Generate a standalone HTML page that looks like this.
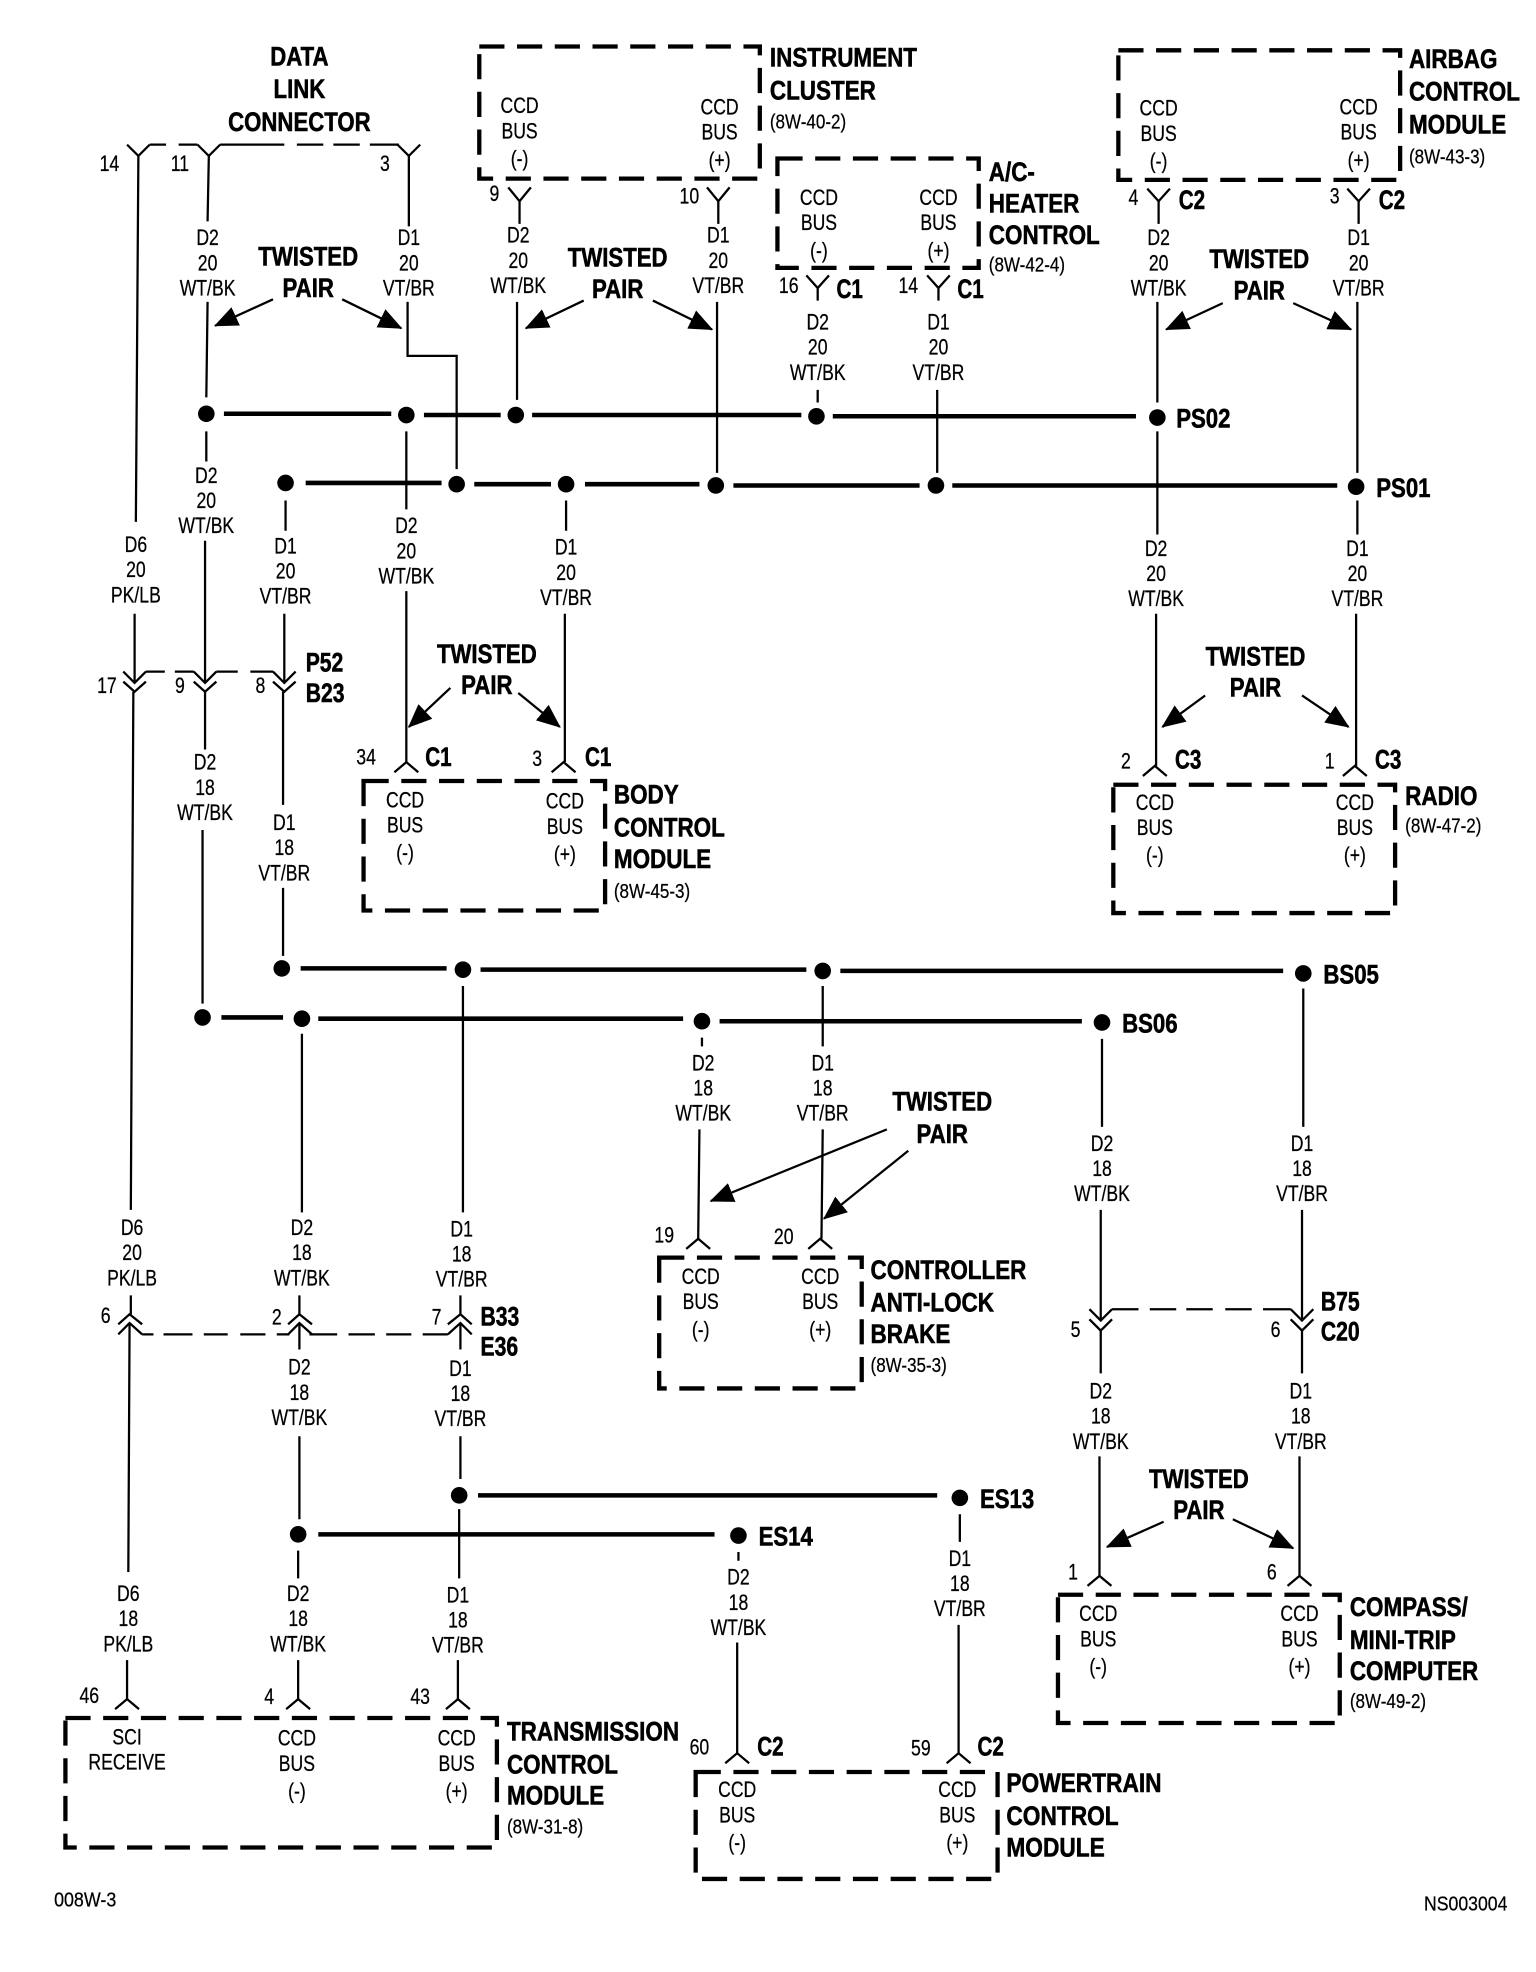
<!DOCTYPE html>
<html><head><meta charset="utf-8"><style>
html,body{margin:0;padding:0;background:#fff}
svg{display:block}
text{font-family:"Liberation Sans",sans-serif;fill:#000;stroke:none}
.w{font-size:17.5px;text-anchor:middle}
.w text{stroke:#000;stroke-width:.2px}
.h{font-size:21px;font-weight:bold}
.h text{stroke:#000;stroke-width:.45px}
.t{font-size:21px;font-weight:bold;text-anchor:middle}
.t text{stroke:#000;stroke-width:.45px}
.n text{font-size:18px;text-anchor:middle;transform-box:fill-box;transform-origin:center;transform:scaleX(.78);stroke:#000;stroke-width:.2px}
.s{font-size:16.5px}
.s text{stroke:#000;stroke-width:.2px}
.thin{fill:none;stroke:#000;stroke-width:1.8}
.bus{fill:none;stroke:#000;stroke-width:3.6}
.box{fill:none;stroke:#000;stroke-width:3.4;stroke-dasharray:20 10}
.dash{fill:none;stroke:#000;stroke-width:1.8}
.arr{fill:none;stroke:#000;stroke-width:1.8;marker-end:url(#tri)}
</style></head><body>
<svg xmlns="http://www.w3.org/2000/svg" width="1536" height="1972" viewBox="0 0 1221 1568" preserveAspectRatio="none">
<defs><marker id="tri" markerUnits="userSpaceOnUse" markerWidth="20" markerHeight="16" refX="18" refY="8" orient="auto"><path d="M0,0 L19,8 L0,16 Z" fill="#000"/></marker></defs>
<rect width="1221" height="1568" fill="#fff"/>

<!-- dashed module boxes -->
<rect class="box" x="381" y="37" width="223" height="105"/>
<rect class="box" x="618" y="126" width="160" height="87"/>
<rect class="box" x="889" y="40" width="224" height="103"/>
<rect class="box" x="289" y="621" width="192" height="103"/>
<rect class="box" x="885" y="624" width="224" height="102"/>
<rect class="box" x="524" y="1000" width="161" height="104"/>
<rect class="box" x="841" y="1268" width="224" height="102"/>
<rect class="box" x="52" y="1366" width="343" height="103"/>
<rect class="box" x="553" y="1409" width="240" height="85"/>

<!-- dashed connector ties -->
<path class="dash" d="M119,115H132M142,115H157M175,115H226M236,115H257M265,115H286M294,115H317"/>
<path class="dash" d="M116,534H131M139,534H154M172,534H189M199,534H217"/>
<path class="dash" d="M113,1061H122M130,1061H153M162,1061H181M191,1061H211M220,1061H230M246,1061H268M277,1061H298M307,1061H327M336,1061H356"/>
<path class="dash" d="M884,1041H905M914,1041H935M943,1041H964M974,1041H995M1004,1041H1026"/>

<!-- buses -->
<path class="bus" d="M178,329H311M337,330H398M423,330H637M662,331H903"/>
<path class="bus" d="M243,384H351M377,385H438M465,385H556M583,386H731M757,386H1063"/>
<path class="bus" d="M239,770H355M382,771H641M668,772H1020"/>
<path class="bus" d="M176,809H225M253,810H543M572,812H860"/>
<path class="bus" d="M380,1189H745"/>
<path class="bus" d="M253,1220H568"/>

<!-- dots -->
<g fill="#000">
<circle cx="164" cy="329" r="6.6"/><circle cx="323" cy="330" r="6.6"/><circle cx="410" cy="330" r="6.6"/><circle cx="649" cy="331" r="6.6"/><circle cx="920" cy="332" r="6.6"/>
<circle cx="227" cy="384" r="6.6"/><circle cx="363" cy="385" r="6.6"/><circle cx="450" cy="385" r="6.6"/><circle cx="569" cy="386" r="6.6"/><circle cx="744" cy="386" r="6.6"/><circle cx="1078" cy="387" r="6.6"/>
<circle cx="224" cy="770" r="6.6"/><circle cx="368" cy="771" r="6.6"/><circle cx="654" cy="772" r="6.6"/><circle cx="1036" cy="774" r="6.6"/>
<circle cx="161" cy="809" r="6.6"/><circle cx="240" cy="810" r="6.6"/><circle cx="558" cy="812" r="6.6"/><circle cx="876" cy="813" r="6.6"/>
<circle cx="365" cy="1189" r="6.6"/><circle cx="763" cy="1191" r="6.6"/>
<circle cx="237" cy="1220" r="6.6"/><circle cx="587" cy="1221" r="6.6"/>
</g>

<!-- thin wires -->
<path class="thin" d="
M110,124L108,415M107,488V543M106,550L104,962
M104,1030V1045M103,1052L102,1250M101,1320V1351
M166,124L165,176M165,240L164,316M164,343V367M163,430V543M163,550V596M161,660V798
M325,124V180M324,240V283H363V373M323,343V405M323,470V606
M413,160V178M411,240V318M571,160V178M570,240V376
M650,229V239M650,310V320M746,229V239M745,310V376
M921,160V178M920,240V320M920,343V425M919,488V609
M1080,160V178M1079,240V376M1079,398V425M1078,488V609
M227,398V422M226,488V543M225,550V640M225,706V760
M450,398V422M449,488V606
M654,784V832M654,898L653,985M558,825V832M556,898L555,985
M876,826V896M875,962V1050M875,1058V1092M874,1158V1253
M1036,786V896M1035,962V1050M1035,1058V1092M1033,1158V1253
M240,822V964M238,1030V1045M238,1052V1073M238,1142V1208M237,1233V1255M237,1320V1351
M368,784V964M366,1030V1045M366,1052V1073M366,1142V1176M365,1200V1255M364,1320V1351
M587,1234V1241M586,1306V1394M763,1204V1226M762,1292V1394"/>

<!-- Y connectors (open upward) -->
<path class="thin" d="
M101,115L110,124L119,115M157,115L166,124L175,115M316,115L325,124L334,115
M404,149L413,160L422,149M562,149L571,160L580,149
M641,219L650,229L659,219M737,219L746,229L755,219
M912,150L921,160L930,150M1071,150L1080,160L1089,150"/>
<!-- lambda connectors at module tops -->
<path class="thin" d="
M313.5,614L323,606L332.5,614M438.5,614L448,606L457.5,614
M908.5,617L918,609L927.5,617M1067.5,617L1077,609L1086.5,617
M545.5,993L555,985L564.5,993M642.5,993L652,985L661.5,993
M864.5,1261L874,1253L883.5,1261M1023.5,1261L1033,1253L1042.5,1261
M91.5,1359L101,1351L110.5,1359M227.5,1359L237,1351L246.5,1359M354.5,1359L364,1351L373.5,1359
M576.5,1402L586,1394L595.5,1402M752.5,1402L762,1394L771.5,1402"/>
<!-- double chevrons down -->
<path class="thin" d="
M98,534L107,543L116,534M98,542L107,550L116,542
M154,534L163,543L172,534M154,542L163,550L172,542
M217,534L226,543L235,534M217,542L226,550L235,542
M866,1041L875,1050L884,1041M866,1049L875,1058L884,1049
M1026,1041L1035,1050L1044,1041M1026,1049L1035,1058L1044,1049"/>
<!-- double chevrons up -->
<path class="thin" d="
M94,1053L103,1045L113,1053M94,1061L103,1052L113,1061
M229,1053L238,1045L248,1053M229,1061L238,1052L248,1061
M356,1053L366,1045L375,1053M356,1061L366,1052L375,1061"/>

<!-- arrows -->
<path class="arr" d="M217,238L171,259"/><path class="arr" d="M272,238L319,261"/>
<path class="arr" d="M464,239L418,261"/><path class="arr" d="M519,239L566,262"/>
<path class="arr" d="M972,241L927,262"/><path class="arr" d="M1028,241L1074,262"/>
<path class="arr" d="M358,547L325,578"/><path class="arr" d="M412,551L445,578"/>
<path class="arr" d="M958,553L924,578"/><path class="arr" d="M1035,553L1072,578"/>
<path class="arr" d="M705,898L565,955"/><path class="arr" d="M722,915L655,969"/>
<path class="arr" d="M925,1210L880,1230"/><path class="arr" d="M980,1208L1028,1231"/>

<!-- wire labels -->
<g class="w">
<text transform="translate(165,195) scale(.8,1)"><tspan x="0" y="0">D2</tspan><tspan x="0" y="20">20</tspan><tspan x="0" y="40">WT/BK</tspan></text>
<text transform="translate(325,195) scale(.8,1)"><tspan x="0" y="0">D1</tspan><tspan x="0" y="20">20</tspan><tspan x="0" y="40">VT/BR</tspan></text>
<text transform="translate(412,193) scale(.8,1)"><tspan x="0" y="0">D2</tspan><tspan x="0" y="20">20</tspan><tspan x="0" y="40">WT/BK</tspan></text>
<text transform="translate(571,193) scale(.8,1)"><tspan x="0" y="0">D1</tspan><tspan x="0" y="20">20</tspan><tspan x="0" y="40">VT/BR</tspan></text>
<text transform="translate(650,262) scale(.8,1)"><tspan x="0" y="0">D2</tspan><tspan x="0" y="20">20</tspan><tspan x="0" y="40">WT/BK</tspan></text>
<text transform="translate(746,262) scale(.8,1)"><tspan x="0" y="0">D1</tspan><tspan x="0" y="20">20</tspan><tspan x="0" y="40">VT/BR</tspan></text>
<text transform="translate(921,195) scale(.8,1)"><tspan x="0" y="0">D2</tspan><tspan x="0" y="20">20</tspan><tspan x="0" y="40">WT/BK</tspan></text>
<text transform="translate(1080,195) scale(.8,1)"><tspan x="0" y="0">D1</tspan><tspan x="0" y="20">20</tspan><tspan x="0" y="40">VT/BR</tspan></text>
<text transform="translate(164,384) scale(.8,1)"><tspan x="0" y="0">D2</tspan><tspan x="0" y="20">20</tspan><tspan x="0" y="40">WT/BK</tspan></text>
<text transform="translate(227,440) scale(.8,1)"><tspan x="0" y="0">D1</tspan><tspan x="0" y="20">20</tspan><tspan x="0" y="40">VT/BR</tspan></text>
<text transform="translate(323,424) scale(.8,1)"><tspan x="0" y="0">D2</tspan><tspan x="0" y="20">20</tspan><tspan x="0" y="40">WT/BK</tspan></text>
<text transform="translate(450,441) scale(.8,1)"><tspan x="0" y="0">D1</tspan><tspan x="0" y="20">20</tspan><tspan x="0" y="40">VT/BR</tspan></text>
<text transform="translate(919,442) scale(.8,1)"><tspan x="0" y="0">D2</tspan><tspan x="0" y="20">20</tspan><tspan x="0" y="40">WT/BK</tspan></text>
<text transform="translate(1079,442) scale(.8,1)"><tspan x="0" y="0">D1</tspan><tspan x="0" y="20">20</tspan><tspan x="0" y="40">VT/BR</tspan></text>
<text transform="translate(108,439) scale(.8,1)"><tspan x="0" y="0">D6</tspan><tspan x="0" y="20">20</tspan><tspan x="0" y="40">PK/LB</tspan></text>
<text transform="translate(163,612) scale(.8,1)"><tspan x="0" y="0">D2</tspan><tspan x="0" y="20">18</tspan><tspan x="0" y="40">WT/BK</tspan></text>
<text transform="translate(226,660) scale(.8,1)"><tspan x="0" y="0">D1</tspan><tspan x="0" y="20">18</tspan><tspan x="0" y="40">VT/BR</tspan></text>
<text transform="translate(559,851) scale(.8,1)"><tspan x="0" y="0">D2</tspan><tspan x="0" y="20">18</tspan><tspan x="0" y="40">WT/BK</tspan></text>
<text transform="translate(654,851) scale(.8,1)"><tspan x="0" y="0">D1</tspan><tspan x="0" y="20">18</tspan><tspan x="0" y="40">VT/BR</tspan></text>
<text transform="translate(876,915) scale(.8,1)"><tspan x="0" y="0">D2</tspan><tspan x="0" y="20">18</tspan><tspan x="0" y="40">WT/BK</tspan></text>
<text transform="translate(1035,915) scale(.8,1)"><tspan x="0" y="0">D1</tspan><tspan x="0" y="20">18</tspan><tspan x="0" y="40">VT/BR</tspan></text>
<text transform="translate(105,982) scale(.8,1)"><tspan x="0" y="0">D6</tspan><tspan x="0" y="20">20</tspan><tspan x="0" y="40">PK/LB</tspan></text>
<text transform="translate(240,982) scale(.8,1)"><tspan x="0" y="0">D2</tspan><tspan x="0" y="20">18</tspan><tspan x="0" y="40">WT/BK</tspan></text>
<text transform="translate(367,983) scale(.8,1)"><tspan x="0" y="0">D1</tspan><tspan x="0" y="20">18</tspan><tspan x="0" y="40">VT/BR</tspan></text>
<text transform="translate(238,1093) scale(.8,1)"><tspan x="0" y="0">D2</tspan><tspan x="0" y="20">18</tspan><tspan x="0" y="40">WT/BK</tspan></text>
<text transform="translate(366,1094) scale(.8,1)"><tspan x="0" y="0">D1</tspan><tspan x="0" y="20">18</tspan><tspan x="0" y="40">VT/BR</tspan></text>
<text transform="translate(875,1112) scale(.8,1)"><tspan x="0" y="0">D2</tspan><tspan x="0" y="20">18</tspan><tspan x="0" y="40">WT/BK</tspan></text>
<text transform="translate(1034,1112) scale(.8,1)"><tspan x="0" y="0">D1</tspan><tspan x="0" y="20">18</tspan><tspan x="0" y="40">VT/BR</tspan></text>
<text transform="translate(102,1273) scale(.8,1)"><tspan x="0" y="0">D6</tspan><tspan x="0" y="20">18</tspan><tspan x="0" y="40">PK/LB</tspan></text>
<text transform="translate(237,1273) scale(.8,1)"><tspan x="0" y="0">D2</tspan><tspan x="0" y="20">18</tspan><tspan x="0" y="40">WT/BK</tspan></text>
<text transform="translate(364,1274) scale(.8,1)"><tspan x="0" y="0">D1</tspan><tspan x="0" y="20">18</tspan><tspan x="0" y="40">VT/BR</tspan></text>
<text transform="translate(587,1260) scale(.8,1)"><tspan x="0" y="0">D2</tspan><tspan x="0" y="20">18</tspan><tspan x="0" y="40">WT/BK</tspan></text>
<text transform="translate(763,1245) scale(.8,1)"><tspan x="0" y="0">D1</tspan><tspan x="0" y="20">18</tspan><tspan x="0" y="40">VT/BR</tspan></text>

<!-- CCD BUS -->
<text transform="translate(413,90) scale(.8,1)"><tspan x="0" y="0">CCD</tspan><tspan x="0" y="20">BUS</tspan><tspan x="0" y="42">(-)</tspan></text>
<text transform="translate(572,91) scale(.8,1)"><tspan x="0" y="0">CCD</tspan><tspan x="0" y="20">BUS</tspan><tspan x="0" y="42">(+)</tspan></text>
<text transform="translate(651,163) scale(.8,1)"><tspan x="0" y="0">CCD</tspan><tspan x="0" y="20">BUS</tspan><tspan x="0" y="42">(-)</tspan></text>
<text transform="translate(746,163) scale(.8,1)"><tspan x="0" y="0">CCD</tspan><tspan x="0" y="20">BUS</tspan><tspan x="0" y="42">(+)</tspan></text>
<text transform="translate(921,92) scale(.8,1)"><tspan x="0" y="0">CCD</tspan><tspan x="0" y="20">BUS</tspan><tspan x="0" y="42">(-)</tspan></text>
<text transform="translate(1080,91) scale(.8,1)"><tspan x="0" y="0">CCD</tspan><tspan x="0" y="20">BUS</tspan><tspan x="0" y="42">(+)</tspan></text>
<text transform="translate(322,642) scale(.8,1)"><tspan x="0" y="0">CCD</tspan><tspan x="0" y="20">BUS</tspan><tspan x="0" y="42">(-)</tspan></text>
<text transform="translate(449,643) scale(.8,1)"><tspan x="0" y="0">CCD</tspan><tspan x="0" y="20">BUS</tspan><tspan x="0" y="42">(+)</tspan></text>
<text transform="translate(918,644) scale(.8,1)"><tspan x="0" y="0">CCD</tspan><tspan x="0" y="20">BUS</tspan><tspan x="0" y="42">(-)</tspan></text>
<text transform="translate(1077,644) scale(.8,1)"><tspan x="0" y="0">CCD</tspan><tspan x="0" y="20">BUS</tspan><tspan x="0" y="42">(+)</tspan></text>
<text transform="translate(557,1021) scale(.8,1)"><tspan x="0" y="0">CCD</tspan><tspan x="0" y="20">BUS</tspan><tspan x="0" y="42">(-)</tspan></text>
<text transform="translate(652,1021) scale(.8,1)"><tspan x="0" y="0">CCD</tspan><tspan x="0" y="20">BUS</tspan><tspan x="0" y="42">(+)</tspan></text>
<text transform="translate(873,1289) scale(.8,1)"><tspan x="0" y="0">CCD</tspan><tspan x="0" y="20">BUS</tspan><tspan x="0" y="42">(-)</tspan></text>
<text transform="translate(1033,1289) scale(.8,1)"><tspan x="0" y="0">CCD</tspan><tspan x="0" y="20">BUS</tspan><tspan x="0" y="42">(+)</tspan></text>
<text transform="translate(236,1388) scale(.8,1)"><tspan x="0" y="0">CCD</tspan><tspan x="0" y="20">BUS</tspan><tspan x="0" y="42">(-)</tspan></text>
<text transform="translate(363,1388) scale(.8,1)"><tspan x="0" y="0">CCD</tspan><tspan x="0" y="20">BUS</tspan><tspan x="0" y="42">(+)</tspan></text>
<text transform="translate(101,1387) scale(.8,1)"><tspan x="0" y="0">SCI</tspan><tspan x="0" y="20">RECEIVE</tspan></text>
<text transform="translate(586,1429) scale(.8,1)"><tspan x="0" y="0">CCD</tspan><tspan x="0" y="20">BUS</tspan><tspan x="0" y="42">(-)</tspan></text>
<text transform="translate(761,1429) scale(.8,1)"><tspan x="0" y="0">CCD</tspan><tspan x="0" y="20">BUS</tspan><tspan x="0" y="42">(+)</tspan></text>
</g>

<!-- twisted pair labels -->
<g class="t">
<text transform="translate(245,211) scale(.84,1)"><tspan x="0" y="0">TWISTED</tspan><tspan x="0" y="25">PAIR</tspan></text>
<text transform="translate(491,212) scale(.84,1)"><tspan x="0" y="0">TWISTED</tspan><tspan x="0" y="25">PAIR</tspan></text>
<text transform="translate(1001,213) scale(.84,1)"><tspan x="0" y="0">TWISTED</tspan><tspan x="0" y="25">PAIR</tspan></text>
<text transform="translate(387,527) scale(.84,1)"><tspan x="0" y="0">TWISTED</tspan><tspan x="0" y="25">PAIR</tspan></text>
<text transform="translate(998,529) scale(.84,1)"><tspan x="0" y="0">TWISTED</tspan><tspan x="0" y="25">PAIR</tspan></text>
<text transform="translate(749,883) scale(.84,1)"><tspan x="0" y="0">TWISTED</tspan><tspan x="0" y="26">PAIR</tspan></text>
<text transform="translate(953,1183) scale(.84,1)"><tspan x="0" y="0">TWISTED</tspan><tspan x="0" y="25">PAIR</tspan></text>
<text transform="translate(238,52) scale(.84,1)"><tspan x="0" y="0">DATA</tspan><tspan x="0" y="26">LINK</tspan><tspan x="0" y="52">CONNECTOR</tspan></text>
</g>

<!-- module titles -->
<g class="h">
<text transform="translate(612,53) scale(.85,1)"><tspan x="0" y="0">INSTRUMENT</tspan><tspan x="0" y="26">CLUSTER</tspan></text>
<text transform="translate(786,144) scale(.85,1)"><tspan x="0" y="0">A/C-</tspan><tspan x="0" y="25">HEATER</tspan><tspan x="0" y="50">CONTROL</tspan></text>
<text transform="translate(1120,54) scale(.85,1)"><tspan x="0" y="0">AIRBAG</tspan><tspan x="0" y="26">CONTROL</tspan><tspan x="0" y="52">MODULE</tspan></text>
<text transform="translate(488,639) scale(.85,1)"><tspan x="0" y="0">BODY</tspan><tspan x="0" y="26">CONTROL</tspan><tspan x="0" y="51">MODULE</tspan></text>
<text transform="translate(1117,640) scale(.85,1)">RADIO</text>
<text transform="translate(692,1017) scale(.85,1)"><tspan x="0" y="0">CONTROLLER</tspan><tspan x="0" y="26">ANTI-LOCK</tspan><tspan x="0" y="51">BRAKE</tspan></text>
<text transform="translate(1073,1285) scale(.85,1)"><tspan x="0" y="0">COMPASS/</tspan><tspan x="0" y="26">MINI-TRIP</tspan><tspan x="0" y="51">COMPUTER</tspan></text>
<text transform="translate(403,1384) scale(.85,1)"><tspan x="0" y="0">TRANSMISSION</tspan><tspan x="0" y="26">CONTROL</tspan><tspan x="0" y="51">MODULE</tspan></text>
<text transform="translate(800,1425) scale(.86,1)"><tspan x="0" y="0">POWERTRAIN</tspan><tspan x="0" y="26">CONTROL</tspan><tspan x="0" y="51">MODULE</tspan></text>
<text transform="translate(935,340) scale(.84,1)">PS02</text>
<text transform="translate(1094,395) scale(.84,1)">PS01</text>
<text transform="translate(1052,782) scale(.84,1)">BS05</text>
<text transform="translate(892,821) scale(.84,1)">BS06</text>
<text transform="translate(779,1199) scale(.84,1)">ES13</text>
<text transform="translate(603,1229) scale(.84,1)">ES14</text>
<text transform="translate(243,534) scale(.8,1)"><tspan x="0" y="0">P52</tspan><tspan x="0" y="24">B23</tspan></text>
<text transform="translate(382,1054) scale(.8,1)"><tspan x="0" y="0">B33</tspan><tspan x="0" y="24">E36</tspan></text>
<text transform="translate(1050,1042) scale(.8,1)"><tspan x="0" y="0">B75</tspan><tspan x="0" y="24">C20</tspan></text>
<text transform="translate(665,237) scale(.78,1)">C1</text>
<text transform="translate(761,237) scale(.78,1)">C1</text>
<text transform="translate(937,166) scale(.78,1)">C2</text>
<text transform="translate(1096,166) scale(.78,1)">C2</text>
<text transform="translate(338,609) scale(.78,1)">C1</text>
<text transform="translate(465,609) scale(.78,1)">C1</text>
<text transform="translate(934,611) scale(.78,1)">C3</text>
<text transform="translate(1093,611) scale(.78,1)">C3</text>
<text transform="translate(602,1396) scale(.78,1)">C2</text>
<text transform="translate(777,1396) scale(.78,1)">C2</text>
</g>

<!-- references -->
<g class="s">
<text transform="translate(612,102) scale(.82,1)">(8W-40-2)</text>
<text transform="translate(786,216) scale(.82,1)">(8W-42-4)</text>
<text transform="translate(1120,130) scale(.82,1)">(8W-43-3)</text>
<text transform="translate(488,714) scale(.82,1)">(8W-45-3)</text>
<text transform="translate(1117,662) scale(.82,1)">(8W-47-2)</text>
<text transform="translate(692,1091) scale(.82,1)">(8W-35-3)</text>
<text transform="translate(1073,1358) scale(.82,1)">(8W-49-2)</text>
<text transform="translate(403,1458) scale(.82,1)">(8W-31-8)</text>
<text transform="translate(43,1516) scale(.86,1)">008W-3</text>
<text transform="translate(1132,1519) scale(.85,1)">NS003004</text>
</g>

<!-- pin numbers -->
<g class="n">
<text x="87" y="136">14</text><text x="143" y="136">11</text><text x="306" y="136">3</text>
<text x="393" y="160">9</text><text x="548" y="162">10</text>
<text x="627" y="233">16</text><text x="722" y="233">14</text>
<text x="901" y="163">4</text><text x="1061" y="162">3</text>
<text x="85" y="551">17</text><text x="143" y="551">9</text><text x="207" y="551">8</text>
<text x="291" y="608">34</text><text x="427" y="609">3</text>
<text x="895" y="611">2</text><text x="1057" y="611">1</text>
<text x="528" y="988">19</text><text x="623" y="989">20</text>
<text x="855" y="1063">5</text><text x="1014" y="1063">6</text>
<text x="84" y="1052">6</text><text x="220" y="1053">2</text><text x="347" y="1053">7</text>
<text x="853" y="1256">1</text><text x="1011" y="1256">6</text>
<text x="71" y="1354">46</text><text x="214" y="1355">4</text><text x="334" y="1355">43</text>
<text x="556" y="1395">60</text><text x="732" y="1396">59</text>
</g>
</svg>
</body></html>
